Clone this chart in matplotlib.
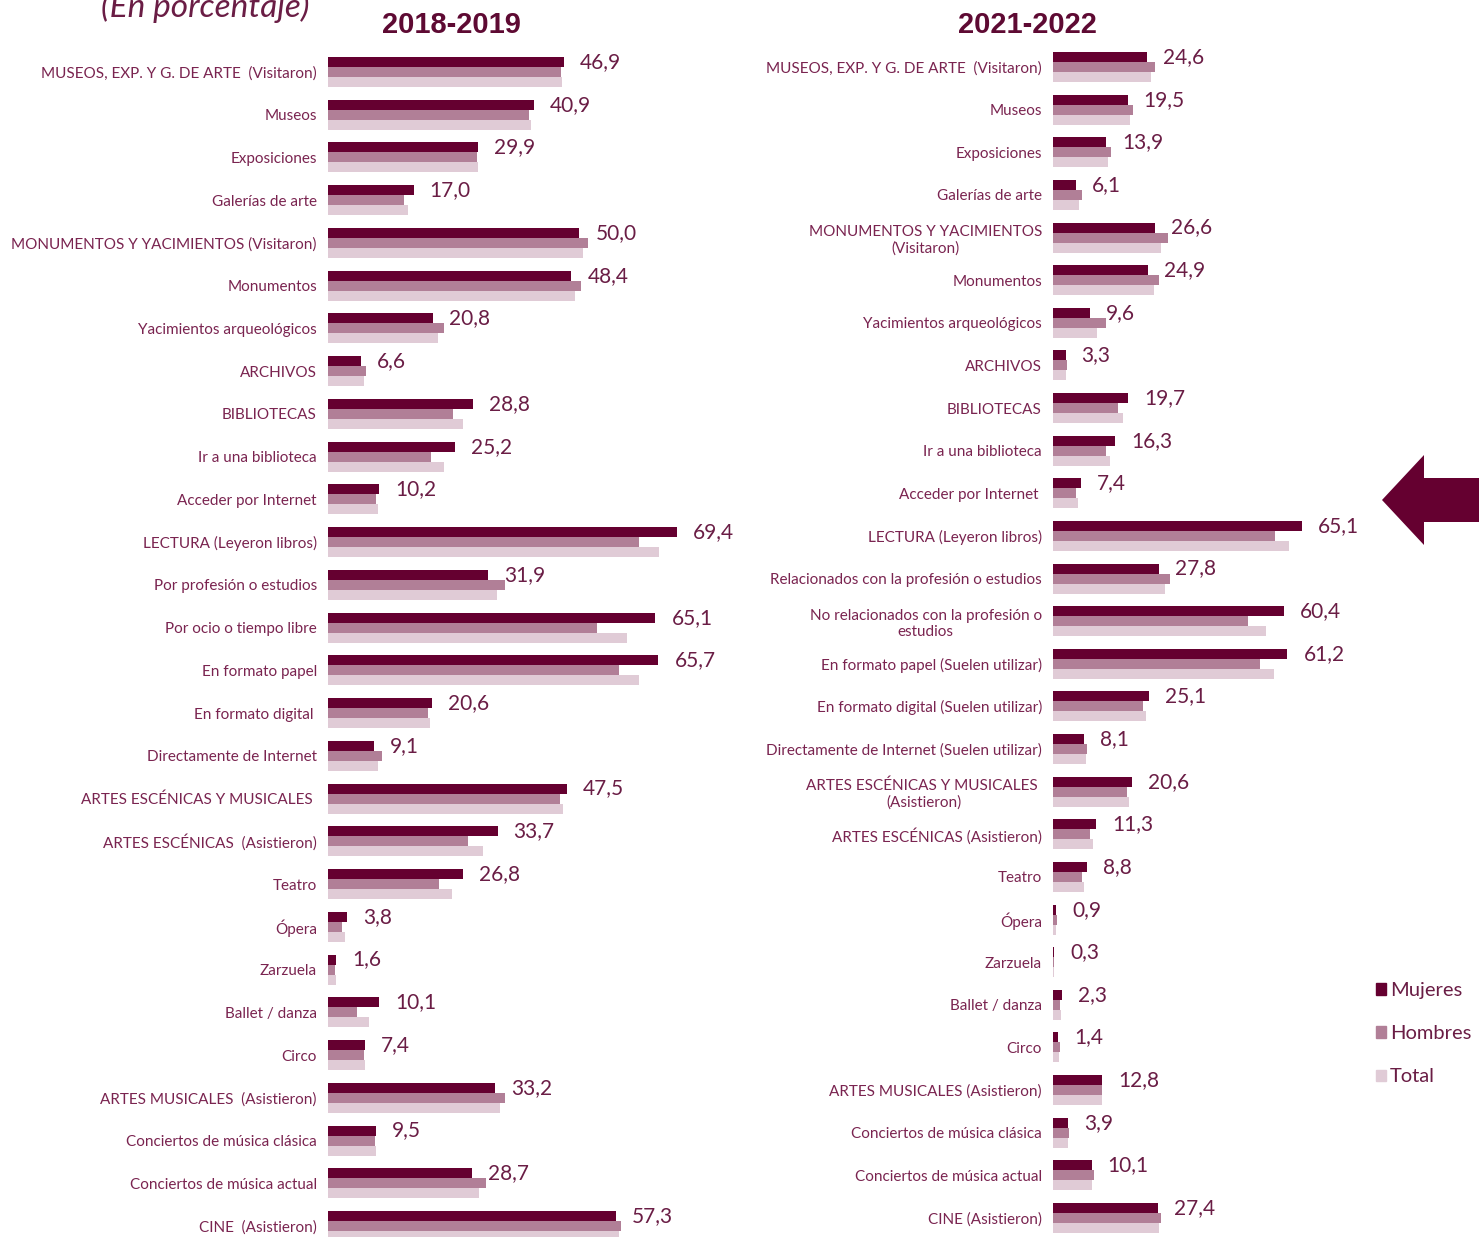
import numpy as np
import matplotlib
matplotlib.use("Agg")
import matplotlib.pyplot as plt
from matplotlib.patches import Polygon, Patch

# ---- data -------------------------------------------------------------
cats_1819 = [
    "MUSEOS, EXP. Y G. DE ARTE  (Visitaron)", "Museos", "Exposiciones", "Galerías de arte",
    "MONUMENTOS Y YACIMIENTOS (Visitaron)", "Monumentos", "Yacimientos arqueológicos",
    "ARCHIVOS", "BIBLIOTECAS", "Ir a una biblioteca", "Acceder por Internet",
    "LECTURA (Leyeron libros)", "Por profesión o estudios", "Por ocio o tiempo libre",
    "En formato papel", "En formato digital ", "Directamente de Internet",
    "ARTES ESCÉNICAS Y MUSICALES ", "ARTES ESCÉNICAS  (Asistieron)", "Teatro", "Ópera",
    "Zarzuela", "Ballet / danza", "Circo", "ARTES MUSICALES  (Asistieron)",
    "Conciertos de música clásica", "Conciertos de música actual", "CINE  (Asistieron)",
]
mujeres_1819 = [46.9, 40.9, 29.9, 17.0, 50.0, 48.4, 20.8, 6.6, 28.8, 25.2, 10.2, 69.4, 31.9, 65.1,
                65.7, 20.6, 9.1, 47.5, 33.7, 26.8, 3.8, 1.6, 10.1, 7.4, 33.2, 9.5, 28.7, 57.3]
hombres_1819 = [46.4, 40.0, 29.6, 15.1, 51.7, 50.2, 23.0, 7.6, 24.8, 20.5, 9.6, 61.9, 35.2, 53.5,
                57.9, 19.9, 10.8, 46.2, 27.9, 22.0, 2.8, 1.4, 5.7, 7.1, 35.2, 9.4, 31.5, 58.3]
total_1819 = [46.6, 40.4, 29.8, 16.0, 50.7, 49.2, 21.8, 7.1, 26.8, 23.0, 9.9, 65.8, 33.5, 59.5,
              61.9, 20.2, 9.9, 46.8, 30.8, 24.6, 3.3, 1.5, 8.1, 7.3, 34.1, 9.5, 30.1, 57.8]

cats_2122 = [
    "MUSEOS, EXP. Y G. DE ARTE  (Visitaron)", "Museos", "Exposiciones", "Galerías de arte",
    "MONUMENTOS Y YACIMIENTOS\n(Visitaron)", "Monumentos", "Yacimientos arqueológicos",
    "ARCHIVOS", "BIBLIOTECAS", "Ir a una biblioteca", "Acceder por Internet ",
    "LECTURA (Leyeron libros)", "Relacionados con la profesión o estudios",
    "No relacionados con la profesión o\nestudios", "En formato papel (Suelen utilizar)",
    "En formato digital (Suelen utilizar)", "Directamente de Internet (Suelen utilizar)",
    "ARTES ESCÉNICAS Y MUSICALES \n(Asistieron)", "ARTES ESCÉNICAS (Asistieron)", "Teatro",
    "Ópera", "Zarzuela", "Ballet / danza", "Circo", "ARTES MUSICALES (Asistieron)",
    "Conciertos de música clásica", "Conciertos de música actual", "CINE (Asistieron)",
]
mujeres_2122 = [24.6, 19.5, 13.9, 6.1, 26.6, 24.9, 9.6, 3.3, 19.7, 16.3, 7.4, 65.1, 27.8, 60.4,
                61.2, 25.1, 8.1, 20.6, 11.3, 8.8, 0.9, 0.3, 2.3, 1.4, 12.8, 3.9, 10.1, 27.4]
hombres_2122 = [26.6, 20.8, 15.1, 7.7, 29.9, 27.8, 13.8, 3.6, 16.9, 13.8, 6.1, 57.9, 30.5, 50.8,
                54.1, 23.5, 9.0, 19.2, 9.7, 7.5, 1.0, 0.2, 1.8, 1.7, 12.9, 4.1, 10.6, 28.2]
total_2122 = [25.5, 20.1, 14.4, 6.8, 28.2, 26.3, 11.6, 3.4, 18.3, 14.9, 6.6, 61.6, 29.2, 55.6,
              57.8, 24.2, 8.5, 19.9, 10.4, 8.2, 0.7, 0.3, 2.1, 1.5, 12.8, 4.0, 10.3, 27.8]

series_names = ["Mujeres", "Hombres", "Total"]

# ---- style ------------------------------------------------------------
C_MUJ = "#650030"
C_HOM = "#b17f97"
C_TOT = "#e0cbd6"
C_LAB = "#7a2450"
C_VAL = "#6a1d45"
plt.rcParams["font.family"] = ["Lato", "DejaVu Sans"]

W, H = 1479, 1237
fig = plt.figure(figsize=(W / 100, H / 100), dpi=100)


def fx(px):
    return px / W


def fy(py):
    return 1 - py / H


def panel(left_px, right_px, scale, first_center, step, cats, muj, hom, tot):
    top_px = 40
    ax = fig.add_axes([fx(left_px), 0, fx(right_px - left_px), fy(top_px)])
    y = np.arange(len(cats))
    bh = 10 / step
    ax.barh(y - bh, muj, height=bh, color=C_MUJ, label=series_names[0])
    ax.barh(y, hom, height=bh, color=C_HOM, label=series_names[1])
    ax.barh(y + bh, tot, height=bh, color=C_TOT, label=series_names[2])
    ax.set_xlim(0, (right_px - left_px) / scale)
    ax.set_ylim((H - first_center) / step, (top_px - first_center) / step)
    ax.set_yticks(y)
    ax.set_yticklabels(cats, fontsize=11, color=C_LAB)
    for t in ax.get_yticklabels():
        t.set_multialignment("center")
    ax.tick_params(axis="y", length=0, pad=8)
    ax.set_xticks([])
    for s in ax.spines.values():
        s.set_visible(False)
    off = 16 / scale
    for yi, v in zip(y, muj):
        ax.text(v + off, yi - bh, f"{v:.1f}".replace(".", ","), va="center", ha="left",
                fontsize=15, color=C_VAL)
    return ax


panel(328, 740, 5.03, 72, 42.74, cats_1819, mujeres_1819, hombres_1819, total_1819)
panel(1053, 1479, 3.83, 67, 42.63, cats_2122, mujeres_2122, hombres_2122, total_2122)

# titles
fig.text(fx(451), fy(25), "2018-2019", ha="center", va="center", fontsize=21,
         fontweight="bold", color="#5e0a33", family=["Liberation Sans", "DejaVu Sans"])
fig.text(fx(1027), fy(25), "2021-2022", ha="center", va="center", fontsize=21,
         fontweight="bold", color="#5e0a33", family=["Liberation Sans", "DejaVu Sans"])
fig.text(fx(205), fy(17), "(En porcentaje)", ha="center", va="baseline", fontsize=24,
         style="italic", color="#6a1d45")

# arrow
arrow = Polygon([(fx(1382), fy(500)), (fx(1424), fy(455)), (fx(1424), fy(478)),
                 (fx(1479), fy(478)), (fx(1479), fy(522)), (fx(1424), fy(522)),
                 (fx(1424), fy(545))], closed=True, transform=fig.transFigure,
                color=C_MUJ, lw=0)
fig.patches.append(arrow)

# legend
handles = [Patch(color=c) for c in (C_MUJ, C_HOM, C_TOT)]
fig.legend(handles, series_names, loc="upper left",
           bbox_to_anchor=(fx(1366), fy(972)), frameon=False, fontsize=14.5,
           handlelength=0.5, handleheight=0.5, handletextpad=0.2,
           labelspacing=1.3, labelcolor=C_VAL, borderpad=0)

fig.savefig("out.png", dpi=100)
